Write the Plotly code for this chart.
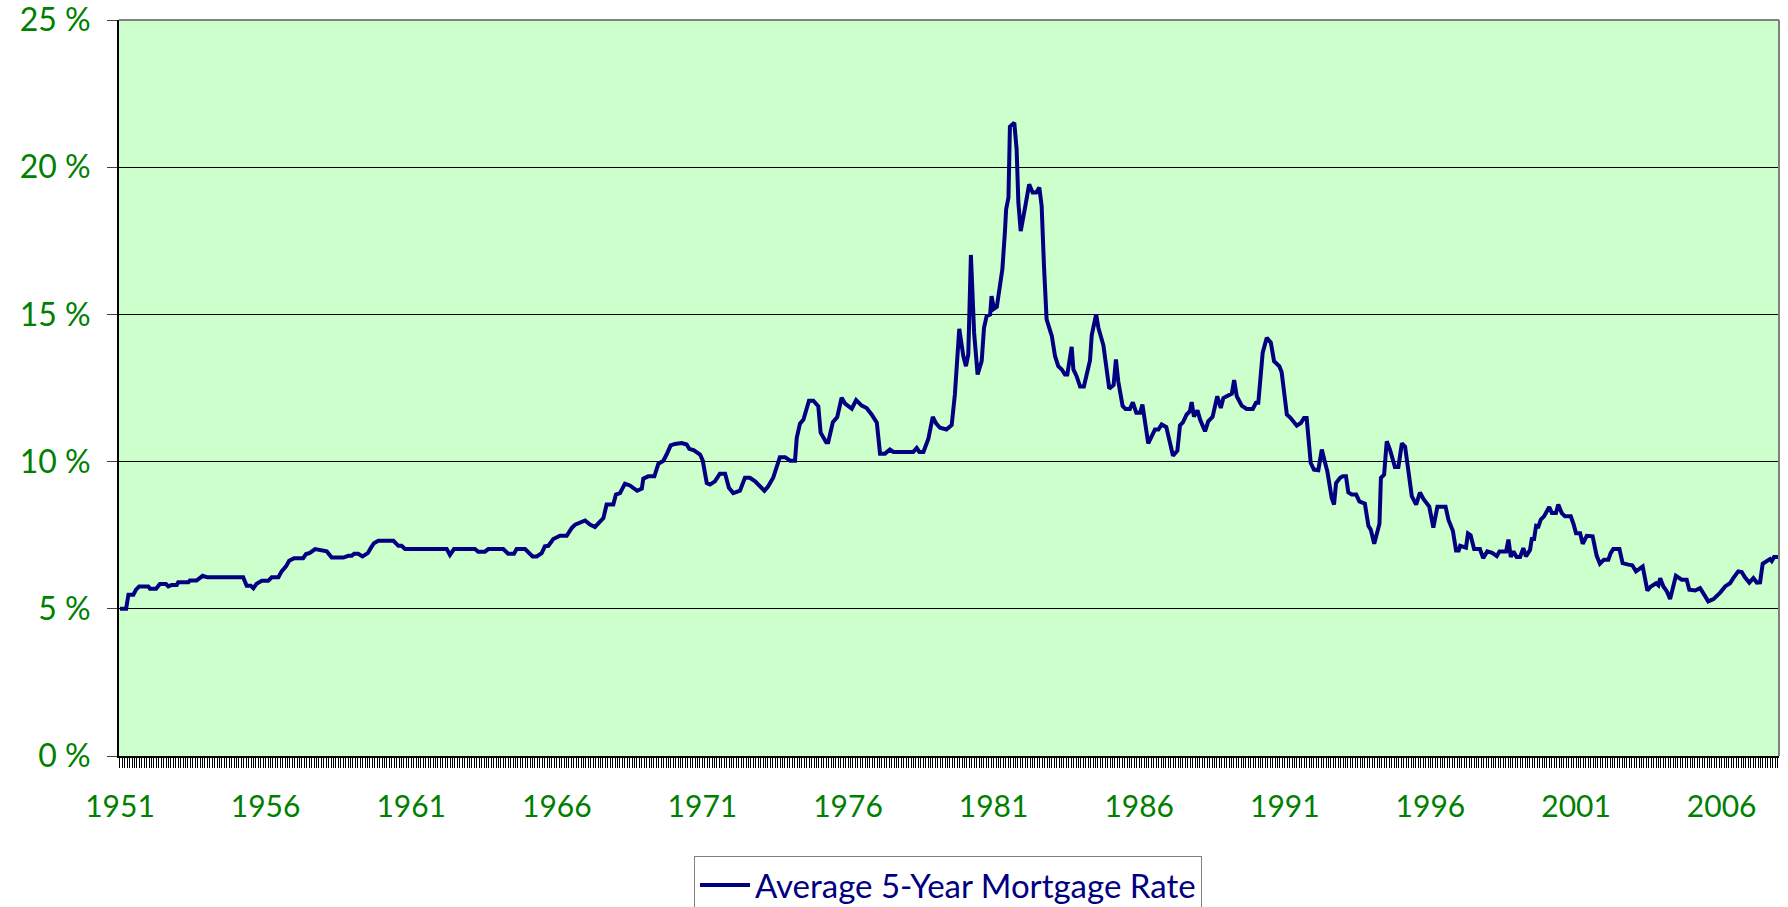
import plotly.graph_objects as go

# Decimal year (Jan 1951 = 1951.00) and average 5-year mortgage rate (%)
years = [
    1951.00, 1951.21, 1951.29, 1951.46, 1951.55, 1951.66, 1951.97, 1952.03, 1952.24, 1952.37,
    1952.58, 1952.66, 1952.78, 1952.95, 1953.00, 1953.35, 1953.40, 1953.63, 1953.84, 1954.00,
    1955.23, 1955.35, 1955.49, 1955.58, 1955.69, 1955.87, 1956.09, 1956.21, 1956.44, 1956.55,
    1956.70, 1956.81, 1956.98, 1957.29, 1957.39, 1957.52, 1957.70, 1957.87, 1958.10, 1958.27,
    1958.67, 1958.84, 1958.96, 1959.04, 1959.18, 1959.33, 1959.51, 1959.61, 1959.72, 1959.87,
    1960.39, 1960.56, 1960.67, 1960.79, 1962.22, 1962.33, 1962.47, 1963.19, 1963.30, 1963.53,
    1963.65, 1964.16, 1964.33, 1964.53, 1964.62, 1964.91, 1965.17, 1965.31, 1965.48, 1965.59,
    1965.71, 1965.88, 1966.11, 1966.34, 1966.51, 1966.63, 1966.80, 1966.97, 1967.14, 1967.31,
    1967.60, 1967.71, 1967.94, 1968.03, 1968.17, 1968.34, 1968.51, 1968.76, 1968.92, 1968.97,
    1969.14, 1969.35, 1969.49, 1969.66, 1969.77, 1969.91, 1970.06, 1970.29, 1970.46, 1970.55,
    1970.71, 1970.92, 1971.01, 1971.15, 1971.26, 1971.43, 1971.60, 1971.78, 1971.91, 1972.06,
    1972.29, 1972.46, 1972.63, 1972.81, 1973.13, 1973.26, 1973.43, 1973.66, 1973.84, 1974.01,
    1974.18, 1974.24, 1974.35, 1974.47, 1974.66, 1974.81, 1974.98, 1975.06, 1975.25, 1975.32,
    1975.48, 1975.63, 1975.78, 1975.90, 1976.13, 1976.28, 1976.47, 1976.64, 1976.81, 1976.99,
    1977.10, 1977.27, 1977.44, 1977.56, 1978.24, 1978.36, 1978.45, 1978.59, 1978.76, 1978.91,
    1979.03, 1979.16, 1979.38, 1979.56, 1979.67, 1979.82, 1979.96, 1980.05, 1980.13, 1980.22,
    1980.33, 1980.45, 1980.59, 1980.67, 1980.76, 1980.88, 1980.93, 1981.01, 1981.11, 1981.22,
    1981.30, 1981.39, 1981.43, 1981.51, 1981.56, 1981.71, 1981.79, 1981.85, 1981.93, 1982.08,
    1982.22, 1982.34, 1982.46, 1982.57, 1982.65, 1982.73, 1982.82, 1983.00, 1983.11, 1983.22,
    1983.34, 1983.45, 1983.53, 1983.68, 1983.74, 1983.85, 1983.97, 1984.10, 1984.31, 1984.37,
    1984.52, 1984.60, 1984.77, 1984.97, 1985.12, 1985.20, 1985.28, 1985.43, 1985.53, 1985.68,
    1985.78, 1985.90, 1986.03, 1986.11, 1986.31, 1986.54, 1986.66, 1986.77, 1986.93, 1987.16,
    1987.31, 1987.40, 1987.50, 1987.63, 1987.74, 1987.80, 1987.88, 1988.00, 1988.09, 1988.26,
    1988.37, 1988.52, 1988.68, 1988.80, 1988.89, 1989.18, 1989.26, 1989.35, 1989.52, 1989.69,
    1989.90, 1990.01, 1990.09, 1990.24, 1990.38, 1990.52, 1990.63, 1990.81, 1990.89, 1991.07,
    1991.20, 1991.41, 1991.55, 1991.66, 1991.75, 1991.89, 1992.00, 1992.15, 1992.27, 1992.35,
    1992.46, 1992.61, 1992.69, 1992.76, 1992.90, 1992.99, 1993.10, 1993.18, 1993.30, 1993.45,
    1993.56, 1993.75, 1993.87, 1993.95, 1994.07, 1994.25, 1994.30, 1994.41, 1994.50, 1994.61,
    1994.78, 1994.90, 1995.02, 1995.13, 1995.24, 1995.36, 1995.51, 1995.64, 1995.76, 1995.96,
    1996.10, 1996.24, 1996.52, 1996.62, 1996.77, 1996.88, 1996.97, 1997.02, 1997.22, 1997.29,
    1997.38, 1997.50, 1997.70, 1997.81, 1997.95, 1998.12, 1998.28, 1998.37, 1998.60, 1998.68,
    1998.76, 1998.85, 1998.96, 1999.08, 1999.19, 1999.28, 1999.42, 1999.48, 1999.56, 1999.63,
    1999.71, 1999.79, 1999.90, 1999.99, 2000.08, 2000.17, 2000.31, 2000.39, 2000.51, 2000.62,
    2000.82, 2000.91, 2001.00, 2001.14, 2001.23, 2001.37, 2001.57, 2001.71, 2001.82, 2001.96,
    2002.11, 2002.19, 2002.28, 2002.49, 2002.60, 2002.80, 2002.93, 2003.06, 2003.20, 2003.29,
    2003.45, 2003.57, 2003.75, 2003.83, 2003.89, 2004.00, 2004.12, 2004.23, 2004.43, 2004.63,
    2004.80, 2004.89, 2005.09, 2005.26, 2005.40, 2005.54, 2005.72, 2005.95, 2006.12, 2006.29,
    2006.40, 2006.57, 2006.69, 2006.80, 2006.95, 2007.09, 2007.21, 2007.32, 2007.41, 2007.55,
    2007.66, 2007.72, 2007.80, 2007.95,
]

rates = [
    5.00, 5.00, 5.48, 5.48, 5.65, 5.76, 5.76, 5.68, 5.68, 5.84,
    5.84, 5.76, 5.81, 5.81, 5.90, 5.90, 5.96, 5.96, 6.12, 6.07,
    6.07, 5.78, 5.78, 5.70, 5.85, 5.95, 5.95, 6.07, 6.07, 6.27,
    6.44, 6.63, 6.72, 6.72, 6.86, 6.90, 7.03, 7.00, 6.95, 6.74,
    6.74, 6.80, 6.80, 6.87, 6.87, 6.78, 6.89, 7.06, 7.23, 7.31,
    7.31, 7.14, 7.14, 7.03, 7.03, 6.83, 7.03, 7.03, 6.94, 6.94,
    7.03, 7.03, 6.87, 6.87, 7.03, 7.03, 6.78, 6.78, 6.89, 7.12,
    7.14, 7.37, 7.48, 7.48, 7.74, 7.86, 7.94, 8.00, 7.86, 7.78,
    8.08, 8.54, 8.54, 8.88, 8.93, 9.25, 9.19, 9.01, 9.08, 9.42,
    9.50, 9.50, 9.93, 10.03, 10.24, 10.55, 10.60, 10.63, 10.58, 10.43,
    10.38, 10.24, 10.04, 9.27, 9.22, 9.33, 9.59, 9.59, 9.11, 8.93,
    9.01, 9.45, 9.45, 9.33, 9.01, 9.16, 9.45, 10.15, 10.15, 10.03,
    10.03, 10.81, 11.29, 11.43, 12.07, 12.07, 11.88, 10.98, 10.66, 10.66,
    11.34, 11.51, 12.17, 11.97, 11.80, 12.09, 11.90, 11.82, 11.60, 11.32,
    10.27, 10.27, 10.41, 10.33, 10.33, 10.46, 10.33, 10.33, 10.78, 11.52,
    11.29, 11.15, 11.09, 11.24, 12.28, 14.51, 13.58, 13.24, 13.64, 17.02,
    14.38, 12.96, 13.41, 14.54, 14.94, 15.00, 15.62, 15.19, 15.26, 16.02,
    16.53, 17.83, 18.57, 18.97, 21.38, 21.51, 20.61, 18.80, 17.83, 18.63,
    19.42, 19.14, 19.14, 19.31, 18.68, 16.64, 14.83, 14.26, 13.58, 13.24,
    13.13, 12.96, 12.96, 13.90, 13.13, 12.90, 12.55, 12.55, 13.44, 14.30,
    15.00, 14.54, 13.95, 12.48, 12.60, 13.47, 12.73, 11.89, 11.79, 11.79,
    12.01, 11.66, 11.66, 11.94, 10.62, 11.09, 11.09, 11.26, 11.17, 10.20,
    10.37, 11.23, 11.33, 11.60, 11.71, 12.02, 11.53, 11.74, 11.43, 11.03,
    11.37, 11.52, 12.22, 11.82, 12.16, 12.31, 12.77, 12.22, 11.90, 11.79,
    11.79, 12.00, 12.00, 13.70, 14.21, 14.04, 13.41, 13.24, 13.04, 11.60,
    11.48, 11.22, 11.31, 11.48, 11.48, 9.95, 9.73, 9.71, 10.41, 10.09,
    9.67, 8.76, 8.54, 9.27, 9.45, 9.50, 9.50, 8.96, 8.88, 8.88,
    8.65, 8.57, 7.82, 7.69, 7.21, 7.89, 9.45, 9.56, 10.69, 10.41,
    9.82, 9.82, 10.62, 10.51, 9.67, 8.83, 8.54, 8.95, 8.73, 8.47,
    7.76, 8.47, 8.47, 8.02, 7.65, 6.98, 6.98, 7.14, 7.08, 7.56,
    7.50, 7.03, 7.03, 6.72, 6.95, 6.90, 6.79, 6.95, 6.95, 7.35,
    6.76, 6.95, 6.76, 6.76, 7.06, 6.78, 7.00, 7.37, 7.37, 7.82,
    7.80, 8.03, 8.14, 8.34, 8.46, 8.25, 8.25, 8.54, 8.25, 8.14,
    8.14, 7.89, 7.57, 7.57, 7.21, 7.48, 7.46, 6.80, 6.53, 6.67,
    6.67, 6.89, 7.03, 7.03, 6.55, 6.50, 6.48, 6.27, 6.35, 6.44,
    5.62, 5.76, 5.87, 5.80, 6.04, 5.76, 5.59, 5.33, 6.12, 5.99,
    5.99, 5.65, 5.62, 5.70, 5.48, 5.25, 5.33, 5.55, 5.76, 5.87,
    6.04, 6.27, 6.25, 6.07, 5.89, 6.04, 5.89, 5.90, 6.53, 6.64,
    6.69, 6.62, 6.76, 6.76,
]

year_ticks = [1951, 1956, 1961, 1966, 1971, 1976, 1981, 1986, 1991, 1996, 2001, 2006]
rate_ticks = [0, 5, 10, 15, 20, 25]
series_name = "Average 5-Year Mortgage Rate"

GREEN = "#008000"
NAVY = "#000080"
FONT_FAMILY = "Lato, 'Open Sans', sans-serif"

fig = go.Figure()
fig.add_trace(go.Scatter(
    x=years, y=rates, mode="lines", name=series_name,
    line=dict(color=NAVY, width=4),
    showlegend=True,
))

fig.update_layout(
    width=1788, height=907,
    margin=dict(l=119, r=9, t=20, b=151, pad=0, autoexpand=False),
    paper_bgcolor="white",
    plot_bgcolor="#CCFFCC",
    showlegend=True,
    legend=dict(
        x=0.4994, xanchor="center", y=-0.1359, yanchor="top",
        orientation="h",
        bgcolor="white", bordercolor="#808080", borderwidth=1,
        font=dict(family=FONT_FAMILY, size=33, color=NAVY),
        itemwidth=50,
    ),
    xaxis=dict(
        range=[1950.966, 2007.97],
        tickmode="array", tickvals=year_ticks,
        ticktext=[str(y) for y in year_ticks],
        ticks="outside", ticklen=10, tickcolor="black", tickwidth=1,
        tickfont=dict(family=FONT_FAMILY, size=30, color=GREEN),
        ticklabelstandoff=13, ticklabeloverflow="allow",
        showgrid=False, zeroline=False, automargin=False,
        showline=True, linecolor="black", linewidth=2,
        minor=dict(tickmode="linear", tick0=1951, dtick=1/12, ticks="outside",
                   ticklen=10, tickcolor="black", tickwidth=1, showgrid=False),
    ),
    yaxis=dict(
        range=[0, 25],
        tickmode="array", tickvals=rate_ticks,
        ticktext=[f"{v} %" for v in rate_ticks],
        ticks="outside", ticklen=10, tickcolor="#404040", tickwidth=1,
        tickfont=dict(family=FONT_FAMILY, size=32, color=GREEN),
        ticklabelstandoff=10, ticklabeloverflow="allow",
        showgrid=True, gridcolor="black", gridwidth=1,
        zeroline=False, automargin=False,
        showline=True, linecolor="black", linewidth=2,
    ),
    shapes=[
        dict(type="line", xref="paper", yref="paper", x0=0, x1=1, y0=1, y1=1,
             line=dict(color="#808080", width=2)),
        dict(type="line", xref="paper", yref="paper", x0=1, x1=1, y0=0, y1=1,
             line=dict(color="#808080", width=2)),
    ],
)

fig.write_html("out.html", config={"displayModeBar": False},
               post_script="document.body.style.margin='0';")
